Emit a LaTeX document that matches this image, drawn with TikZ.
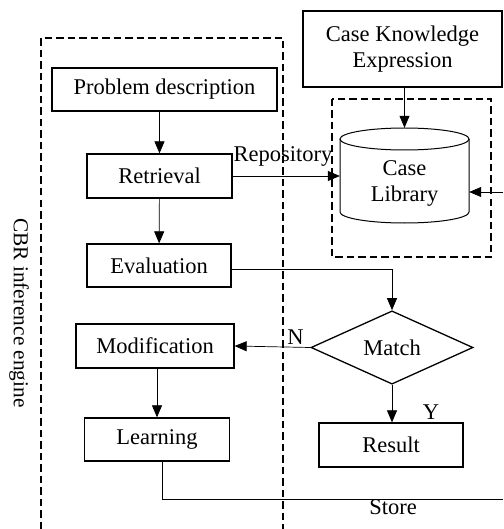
\documentclass[tikz,border=0pt]{standalone}
\usepackage{fontspec}
\setmainfont{Liberation Serif}
\usetikzlibrary{shapes.geometric,arrows.meta}
\begin{document}
\begin{tikzpicture}[x=1pt,y=-1pt,font=\fontsize{22.5}{26}\selectfont]
    \tikzstyle{stepbox} = [draw,line width=1.3pt,inner sep=0pt,align=center]
    \tikzstyle{frame} = [line width=2pt,dash pattern=on 7.5pt off 4pt]
    \tikzstyle{conn} = [line width=0.7pt,-{Triangle[length=12pt,width=10pt]}]
    \tikzstyle{ann} = [inner sep=0pt]
    \useasboundingbox (0,0) rectangle (503,529);
    \draw[frame] (41,529) -- (41,38) -- (283,38) -- (283,529);
    \draw[frame] (332,99) rectangle (491,257);
    \node[ann,rotate=-90,font=\fontsize{21.3}{24}\selectfont] (cbr) at (19,313) {CBR inference engine};
    \node[stepbox,minimum width=225pt,minimum height=43pt] (prob) at (164.5,89.5) {Problem description};
    \node[stepbox,minimum width=145pt,minimum height=44pt] (retr) at (159.5,176) {Retrieval};
    \node[stepbox,minimum width=144pt,minimum height=43pt] (eval) at (159,265.5) {Evaluation};
    \node[stepbox,minimum width=158pt,minimum height=44pt] (modif) at (155,346) {Modification};
    \node[stepbox,minimum width=145pt,minimum height=43pt] (learn) at (157,439.5) {Learning};
    \node[stepbox,minimum width=199pt,minimum height=76pt] (cke) at (402.5,49) {Case Knowledge\\Expression};
    \node[stepbox,diamond,minimum width=162pt,minimum height=63pt] (match) at (392,347.5) {Match};
    \node[stepbox,minimum width=144pt,minimum height=44pt] (result) at (391,445) {Result};
    % case library cylinder
    \node[inner sep=0pt,minimum width=129pt,minimum height=95pt] (lib) at (404.5,175.5) {};
    \draw[line width=1pt] (404.5,139) ellipse [x radius=64.5,y radius=11];
    \draw[line width=1pt] (340,139) -- (340,212) arc [start angle=180,end angle=0,x radius=64.5,y radius=11] -- (469,139);
    \node[ann,align=center] (libtext) at (404.5,183) {Case\\Library};
    \coordinate (libin) at (503,192);
    \coordinate (storeend) at (503,499);
    \draw[conn] (retr.north |- prob.south) -- (retr.north);
    \draw[conn] (retr) -- (eval);
    \draw[conn] (retr.east) -- (retr.east -| lib.west);
    \draw[conn] (cke.south -| lib.north) -- (lib.north);
    \draw[conn] (libin) -- (libin -| lib.east);
    \draw[conn] ([yshift=-4pt]eval.east) -| (match.north);
    \draw[conn] (match.west) -- (modif.east);
    \draw[conn] (match.south) -- (match.south |- result.north);
    \draw[conn] (modif.south -| learn.north) -- (learn.north);
    \draw[line width=0.9pt] ([xshift=5pt]learn.south) |- (storeend);
    \node[ann] (repo) at (283,156) {Repository};
    \node[ann] (nlab) at (295.5,337) {N};
    \node[ann] (ylab) at (431,412) {Y};
    \node[ann] (store) at (393,507) {Store};
\end{tikzpicture}
\end{document}
